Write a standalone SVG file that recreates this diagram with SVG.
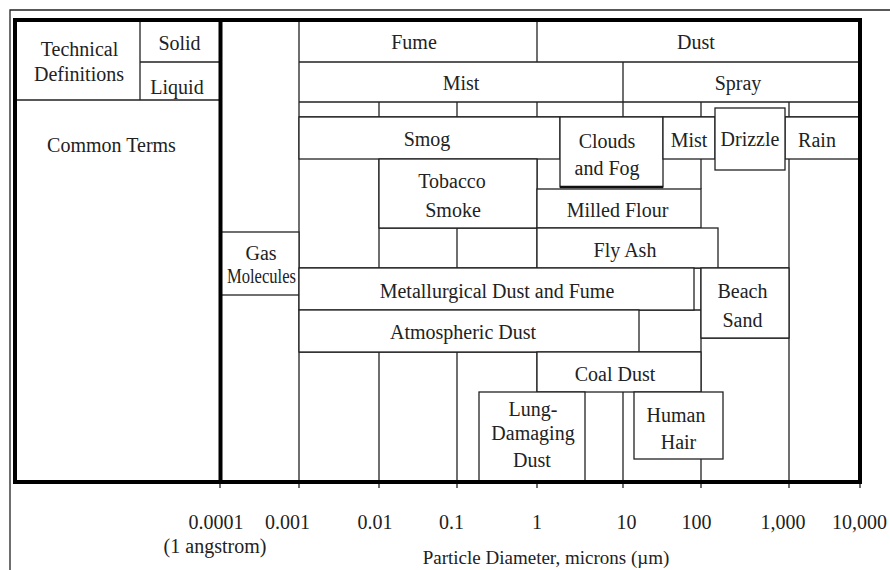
<svg xmlns="http://www.w3.org/2000/svg" width="890" height="570" viewBox="0 0 890 570">
<style>
  .ln{stroke:#222;stroke-width:1.3;fill:none}
  .bx{stroke:#222;stroke-width:1.3;fill:#fff}
  .thick{stroke:#000;stroke-width:4;fill:none}
  text{font-family:"Liberation Serif","Times New Roman",serif;font-size:20px;fill:#222;text-anchor:middle}
</style>
<rect width="890" height="570" fill="#fff"/>
<path class="ln" d="M10,570 V10 H890"/>
<g id="grid">
  <path class="ln" d="M15,100 H220 M140,62 H220 M140,20 V100
    M299,20 V482 M299,62 H860 M299,102 H860 M299,117 H860
    M537,20 V62 M623,62 V117
    M379,102 V117 M457,102 V117 M537,102 V117 M701,102 V117 M789,102 V117
    M537,159 V189 M701,159 V189 M789,159 V482
    M379,159 V268 M457,228 V268 M537,228 V268 M379,228 H537
    M299,268 H789 M701,268 V392 M701,338 H789
    M299,310 H701 M299,352 H701
    M379,352 V482 M457,352 V482 M537,352 V392
    M623,392 V482 M701,459 V482"/>
</g>
<g id="axis">
  <path class="ln" d="M220,482 V488 M299,482 V488 M379,482 V488 M457,482 V488 M537,482 V488 M623,482 V488 M701,482 V488 M789,482 V488 M860,482 V488"/>
  <text x="216" y="529">0.0001</text>
  <text x="215" y="553">(1 angstrom)</text>
  <text x="287.5" y="529">0.001</text>
  <text x="375" y="529">0.01</text>
  <text x="451.5" y="529">0.1</text>
  <text x="537" y="529">1</text>
  <text x="626.5" y="529">10</text>
  <text x="696.5" y="529">100</text>
  <text x="783" y="529">1,000</text>
  <text x="859.5" y="529">10,000</text>
  <text x="546" y="564" style="font-size:19px">Particle Diameter, microns (µm)</text>
</g>
<g id="technical-definitions"><text x="79.5" y="56">Technical</text><text x="79" y="81">Definitions</text></g>
<g id="solid"><text x="179.5" y="50">Solid</text></g>
<g id="liquid"><text x="177" y="94">Liquid</text></g>
<g id="common-terms"><text x="111.5" y="152">Common Terms</text></g>
<g id="fume"><text x="414" y="49">Fume</text></g>
<g id="dust"><text x="696" y="49">Dust</text></g>
<g id="mist"><text x="461" y="90">Mist</text></g>
<g id="spray"><text x="738" y="90">Spray</text></g>
<g id="smog"><rect class="bx" x="299" y="117" width="261" height="42"/><text x="427" y="146">Smog</text></g>
<g id="clouds-fog"><rect class="bx" x="560" y="117" width="103" height="70"/><path d="M560,187 H663" stroke="#111" stroke-width="2.4"/><text x="607" y="147.5">Clouds</text><text x="607" y="175">and Fog</text></g>
<g id="mist-small"><rect class="bx" x="663" y="117" width="52" height="42"/><text x="689" y="147">Mist</text></g>
<g id="rain"><rect class="bx" x="785" y="117" width="75" height="42"/><text x="817" y="147">Rain</text></g>
<g id="drizzle"><rect class="bx" x="715" y="108" width="70" height="62"/><text x="750" y="146">Drizzle</text></g>
<g id="tobacco-smoke"><rect class="bx" x="379" y="159" width="158" height="69"/><text x="452" y="188">Tobacco</text><text x="453" y="217">Smoke</text></g>
<g id="milled-flour"><rect class="bx" x="537" y="189" width="164" height="39"/><text x="617.5" y="217">Milled Flour</text></g>
<g id="fly-ash"><rect class="bx" x="537" y="228" width="181" height="40"/><text x="625" y="257">Fly Ash</text></g>
<g id="gas-molecules"><rect class="bx" x="220" y="232" width="79" height="63"/><text x="261" y="260">Gas</text><text x="261.5" y="283" textLength="69" lengthAdjust="spacingAndGlyphs">Molecules</text></g>
<g id="metallurgical"><rect class="bx" x="299" y="268" width="395" height="42"/><text x="497" y="298">Metallurgical Dust and Fume</text></g>
<g id="beach-sand"><rect class="bx" x="701" y="268" width="88" height="70"/><text x="742.5" y="298">Beach</text><text x="742.5" y="327">Sand</text></g>
<g id="atmospheric"><rect class="bx" x="299" y="310" width="340" height="42"/><text x="463" y="339">Atmospheric Dust</text></g>
<g id="coal-dust"><rect class="bx" x="537" y="352" width="164" height="40"/><text x="615" y="381">Coal Dust</text></g>
<g id="lung-damaging"><rect class="bx" x="479" y="392" width="106" height="90"/><text x="533" y="416">Lung-</text><text x="533" y="440">Damaging</text><text x="532" y="467">Dust</text></g>
<g id="human-hair"><rect class="bx" x="634" y="392" width="89" height="67"/><text x="676" y="422">Human</text><text x="678.5" y="449">Hair</text></g>
<g id="frame">
  <rect class="thick" x="15" y="20" width="845" height="462"/>
  <path class="thick" d="M220.5,20 V482"/>
</g>
</svg>
